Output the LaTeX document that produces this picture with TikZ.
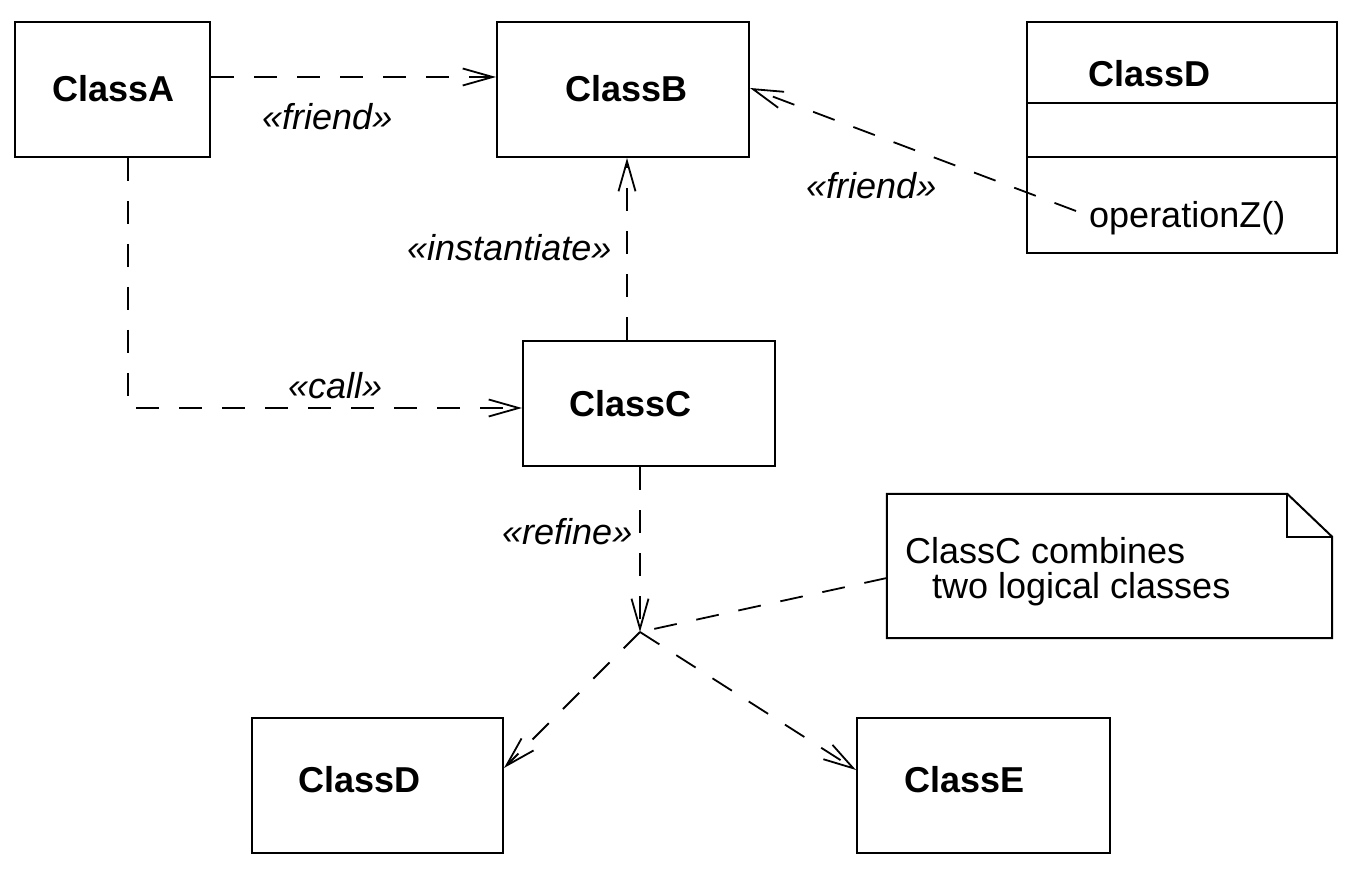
\documentclass[tikz,border=0pt]{standalone}
\usepackage{fontspec}
\setmainfont{Liberation Sans}
\usetikzlibrary{arrows.meta}
\newcommand\fsz{\fontsize{36}{35}\selectfont}
\begin{document}
\begin{tikzpicture}[x=1pt,y=-1pt,
  box/.style={draw, line width=2pt, inner sep=0pt},
  cls/.style={font=\fsz\bfseries, inner sep=0pt, anchor=base west},
  txt/.style={font=\fsz, inner sep=0pt, anchor=base west},
  ster/.style={font=\fsz\itshape, inner sep=0pt, anchor=base west},
  depline/.style={line width=1.8pt, dash pattern=on 23pt off 20pt},
  dep/.style={depline, -{Straight Barb[length=30pt,width=17pt,line width=1.8pt]}}]
\useasboundingbox (0,0) rectangle (1366,874);
% boxes
\node[box, minimum width=195pt, minimum height=135pt] (A) at (112.5,89.5) {};
\node[box, minimum width=252pt, minimum height=135pt] (B) at (623,89.5) {};
\node[box, minimum width=252pt, minimum height=125pt] (C) at (649,403.5) {};
\node[box, minimum width=310pt, minimum height=231pt] (D1) at (1182,137.5) {};
\node[box, minimum width=251pt, minimum height=135pt] (D2) at (377.5,785.5) {};
\node[box, minimum width=253pt, minimum height=135pt] (E) at (983.5,785.5) {};
\draw[line width=2pt] (D1.west |- 0,103) -- (D1.east |- 0,103);
\draw[line width=2pt] (D1.west |- 0,157) -- (D1.east |- 0,157);
% note
\node[inner sep=0pt, minimum width=445pt, minimum height=144pt] (N) at (1109.5,566) {};
\draw[line width=2pt] (N.south west) -- (N.north west) -- ([xshift=-45pt]N.north east)
  -- ([yshift=-43pt]N.north east) -- (N.south east) -- cycle;
\draw[line width=2pt] ([xshift=-45pt]N.north east) -- ([xshift=-45pt,yshift=-43pt]N.north east)
  -- ([yshift=-43pt]N.north east);
% texts
\node[cls] (tA) at (52,102) {ClassA};
\node[cls] (tB) at (565,102) {ClassB};
\node[cls] (tC) at (569,417) {ClassC};
\node[cls] (tD1) at (1088,87) {ClassD};
\node[txt] (tZ) at (1089,228) {operationZ()};
\node[cls] (tD2) at (298,792) {ClassD};
\node[cls] (tE) at (904,792) {ClassE};
\node[txt] (tN1) at (905,563) {ClassC combines};
\node[txt] (tN2) at (932,598) {two logical classes};
% stereotypes
\node[ster] (s1) at (262,130) {«friend»};
\node[ster] (s2) at (407,261) {«instantiate»};
\node[ster] (s3) at (806,199) {«friend»};
\node[ster] (s4) at (288,399) {«call»};
\node[ster] (s5) at (502,544) {«refine»};
% connectors
\coordinate (J) at (640,632);
\coordinate (Z) at (1076,211);
\coordinate (K) at (128,408);
\draw[dep] (A.east |- 0,77) -- (B.west |- 0,77);
\draw[dep] (A.south -| K) -- (K) -- (C.west |- K);
\draw[dep] (C.north -| 627,0) -- (B.south -| 627,0);
\draw[dep] (Z) -- (B.east |- 0,88);
\draw[dep] (C.south -| J) -- (J);
\draw[dep] (J) -- (D2.east |- 0,768);
\draw[dep] (J) -- (E.west |- 0,770);
\draw[depline] (N.west |- 0,578) -- (J);
\end{tikzpicture}
\end{document}
